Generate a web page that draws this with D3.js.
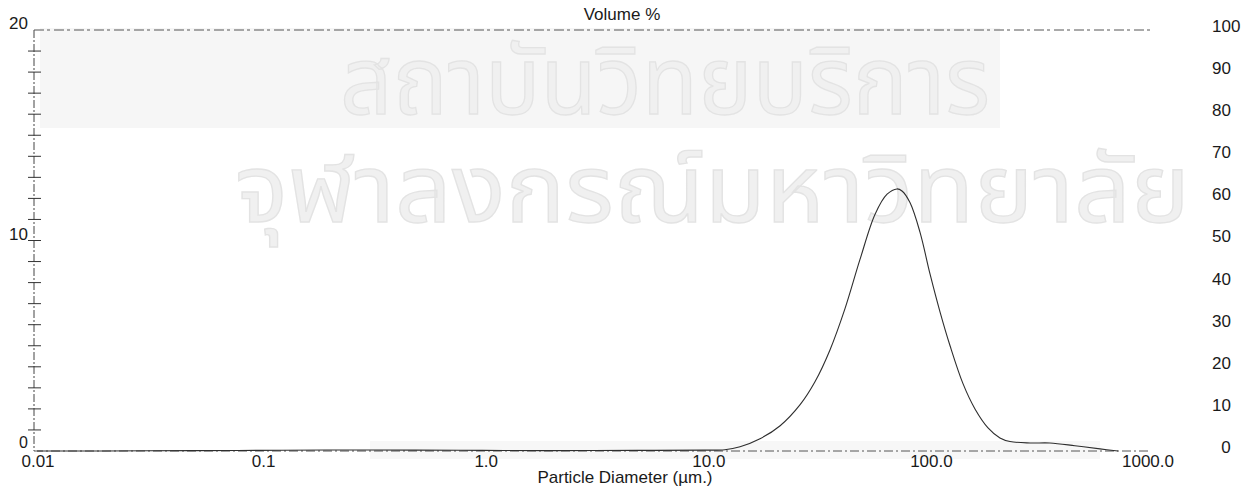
<!DOCTYPE html>
<html>
<head>
<meta charset="utf-8">
<script src="https://cdn.jsdelivr.net/npm/d3@7/dist/d3.min.js"></script>
<style>
  html, body { margin: 0; padding: 0; background: #fff; }
  svg { display: block; }
  text { font-family: "Liberation Sans", Arial, sans-serif; fill: #1a1a1a; }
</style>
</head>
<body>
<svg id="chart" width="1255" height="490"></svg>
<script>
// Particle size distribution (volume %)
const diameters = [0.01, 0.02, 0.05, 0.1, 0.2, 0.5, 1, 2, 5, 10, 12.3, 14.4, 17.7, 21.8, 26.8, 31.3, 36.5, 42.6, 49.8, 58.2, 65.9, 73.0, 76.9, 83.5, 92.6, 102.8, 114, 126.4, 144.5, 163.6, 187.2, 211.8, 235, 289, 355, 460, 596, 718];
const volumePct = [0, 0, 0.02, 0.03, 0.05, 0.04, 0.03, 0.02, 0.03, 0.04, 0.06, 0.2, 0.58, 1.2, 2.2, 3.3, 4.8, 6.75, 9.1, 11.25, 12.2, 12.45, 12.35, 11.8, 10.4, 8.4, 6.6, 5.0, 3.2, 2.0, 1.1, 0.62, 0.45, 0.38, 0.38, 0.25, 0.1, 0];

const xTickValues = [0.01, 0.1, 1, 10, 100, 1000];
const xTickLabels = ["0.01", "0.1", "1.0", "10.0", "100.0", "1000.0"];
const yLeftMinorTicks = [1, 2, 3, 4, 5, 6, 7, 8, 9, 10, 11, 12, 13, 14, 15, 16, 17, 18, 19];
const yLeftLabels = [0, 10, 20];
const yRightLabels = [0, 10, 20, 30, 40, 50, 60, 70, 80, 90, 100];
const titleText = "Volume %";
const xAxisTitle = "Particle Diameter (µm.)";
const watermarkLines = ["สถาบันวิทยบริการ", "จุฬาลงกรณ์มหาวิทยาลัย"];

const svg = d3.select("#chart");

const x = d3.scaleLog().domain([0.01, 1000]).range([37, 1150]);
const y = d3.scaleLinear().domain([0, 20]).range([451, 30]);
const y2 = d3.scaleLinear().domain([0, 100]).range([451, 30]);

// faint stamp behind the plot
svg.append("rect").attr("x", 40).attr("y", 28).attr("width", 960).attr("height", 100).attr("fill", "#f6f6f6");
svg.append("rect").attr("x", 370).attr("y", 441).attr("width", 730).attr("height", 18).attr("fill", "#f7f7f7");

const wmFont = "'Noto Sans Thai', 'Loma', 'Garuda', 'Tlwg Typo', 'DejaVu Sans', sans-serif";
const wm = svg.append("g").attr("class", "watermark");
wm.append("text")
  .attr("x", 340).attr("y", 114)
  .attr("textLength", 650).attr("lengthAdjust", "spacingAndGlyphs")
  .style("font-family", wmFont)
  .style("font-size", "94px")
  .style("fill", "#f0f0f0").style("stroke", "#e3e3e3").style("stroke-width", 1.3)
  .text(watermarkLines[0]);
wm.append("text")
  .attr("x", 235).attr("y", 222)
  .attr("textLength", 955).attr("lengthAdjust", "spacingAndGlyphs")
  .style("font-family", wmFont)
  .style("font-size", "94px")
  .style("fill", "#f0f0f0").style("stroke", "#e3e3e3").style("stroke-width", 1.3)
  .text(watermarkLines[1]);

// frame: left axis, top border, bottom axis
svg.append("line").attr("x1", x(0.01) - 3).attr("x2", x(0.01) - 3).attr("y1", y(20)).attr("y2", y(0))
  .attr("stroke", "#444").attr("stroke-width", 1).attr("stroke-dasharray", "8,2,2,2");
svg.append("line").attr("x1", x(0.01) - 3).attr("x2", x(1000)).attr("y1", y(20)).attr("y2", y(20))
  .attr("stroke", "#555").attr("stroke-width", 1).attr("stroke-dasharray", "10,3,3,4");
svg.append("line").attr("x1", x(0.01) - 3).attr("x2", x(1000)).attr("y1", y(0)).attr("y2", y(0))
  .attr("stroke", "#555").attr("stroke-width", 1).attr("stroke-dasharray", "9,3,2,3");

// left axis ticks (cross the axis line)
svg.append("g").selectAll("line").data(yLeftMinorTicks).join("line")
  .attr("x1", x(0.01) - 9).attr("x2", x(0.01) + 4)
  .attr("y1", d => y(d)).attr("y2", d => y(d))
  .attr("stroke", "#333").attr("stroke-width", 1);

svg.append("g").selectAll("text").data(yLeftLabels).join("text")
  .attr("x", 28).attr("y", d => y(d) - (d === 0 ? 3 : 1))
  .attr("text-anchor", "end")
  .style("font-size", d => d === 0 ? "16px" : "17px")
  .text(d => d);

// right-hand scale (labels only)
const right = svg.append("g");
right.selectAll("text").data(yRightLabels).join("text")
  .attr("x", 1212).attr("y", d => y2(d) - 4)
  .attr("dy", "0.35em")
  .attr("text-anchor", d => d === 0 ? "middle" : "start")
  .attr("dx", d => d === 0 ? 14 : 0)
  .style("font-size", "17px")
  .text(d => d);

// x tick labels
svg.append("g").selectAll("text").data(xTickValues).join("text")
  .attr("x", (d, i) => x(d) + (i === 0 ? 1 : i === xTickValues.length - 1 ? -2 : 4))
  .attr("y", y(0) + 16)
  .attr("text-anchor", "middle")
  .style("font-size", "17px")
  .text((d, i) => xTickLabels[i]);

// titles
svg.append("text").attr("x", 622).attr("y", 20).attr("text-anchor", "middle")
  .style("font-size", "17px").text(titleText);
svg.append("text").attr("x", 625).attr("y", 483).attr("text-anchor", "middle")
  .style("font-size", "17px").text(xAxisTitle);

// distribution curve
const line = d3.line()
  .x((d, i) => x(diameters[i]))
  .y(d => y(d))
  .curve(d3.curveCatmullRom.alpha(0.5));

svg.append("path")
  .datum(volumePct)
  .attr("d", line)
  .attr("fill", "none")
  .attr("stroke", "#2e2e2e")
  .attr("stroke-width", 1.1);
</script>
</body>
</html>
